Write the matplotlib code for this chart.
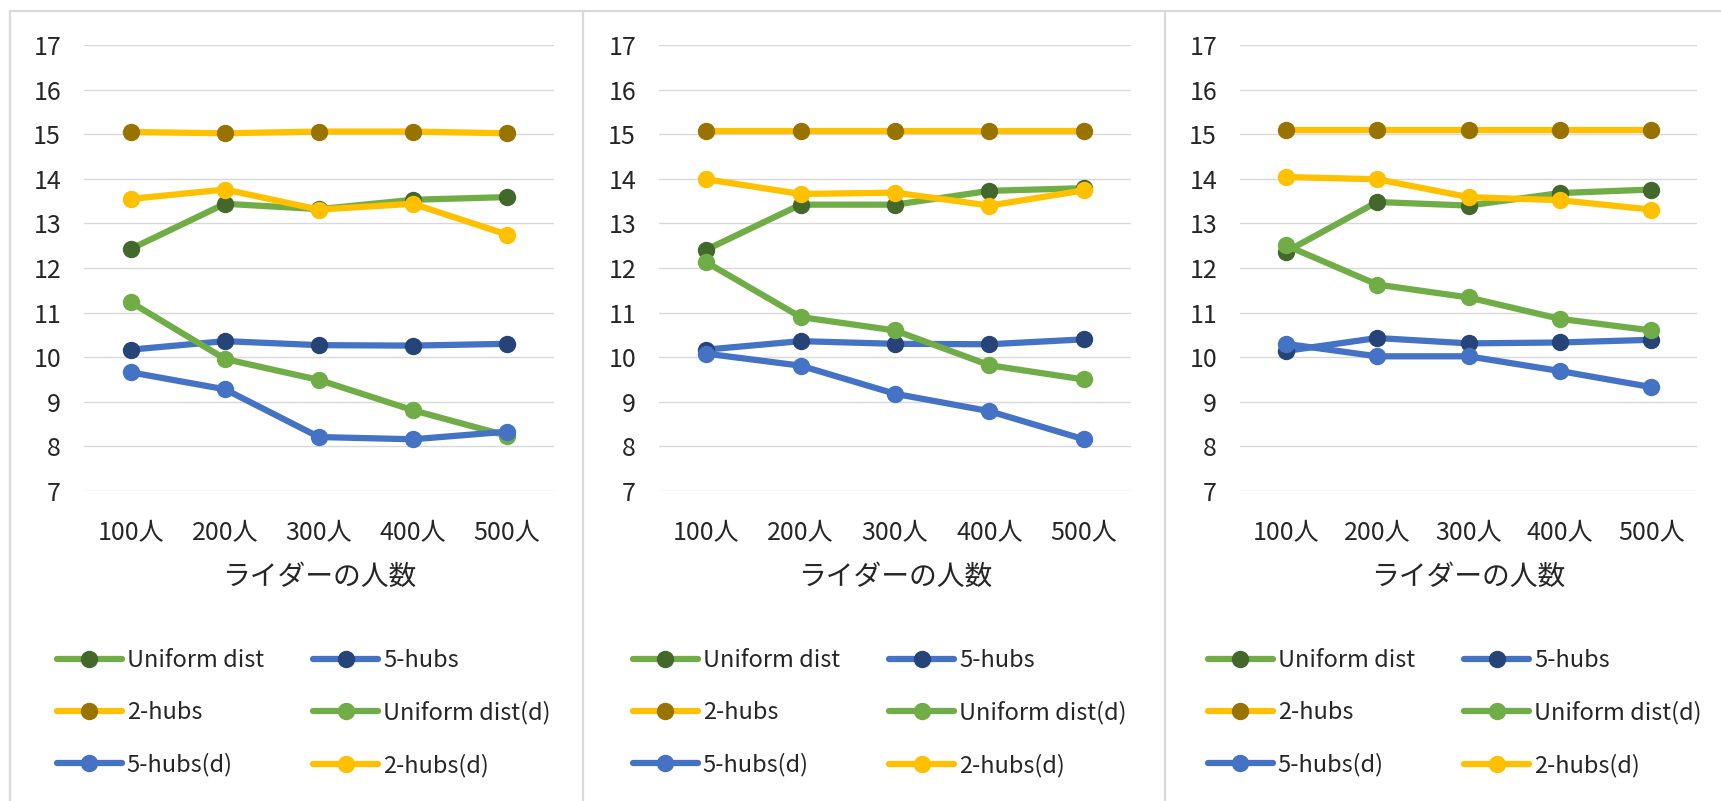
import matplotlib
matplotlib.use("Agg")
import matplotlib.pyplot as plt
from matplotlib.lines import Line2D

plt.rcParams["font.family"] = ["Noto Sans CJK JP", "DejaVu Sans"]

# ---- data -------------------------------------------------------------
categories = ["100人", "200人", "300人", "400人", "500人"]
x_label = "ライダーの人数"
y_ticks = [7, 8, 9, 10, 11, 12, 13, 14, 15, 16, 17]

series_names = ["Uniform dist", "5-hubs", "2-hubs",
                "Uniform dist(d)", "5-hubs(d)", "2-hubs(d)"]

# left panel
p1_uniform = [12.43, 13.44, 13.32, 13.53, 13.59]
p1_hub5 = [10.17, 10.36, 10.27, 10.26, 10.30]
p1_hub2 = [15.05, 15.02, 15.06, 15.06, 15.02]
p1_uniform_d = [11.23, 9.96, 9.49, 8.81, 8.24]
p1_hub5_d = [9.66, 9.28, 8.21, 8.16, 8.33]
p1_hub2_d = [13.55, 13.76, 13.31, 13.44, 12.75]

# middle panel
p2_uniform = [12.41, 13.42, 13.42, 13.73, 13.79]
p2_hub5 = [10.17, 10.36, 10.30, 10.29, 10.40]
p2_hub2 = [15.07, 15.07, 15.07, 15.07, 15.07]
p2_uniform_d = [12.13, 10.90, 10.60, 9.82, 9.50]
p2_hub5_d = [10.08, 9.81, 9.18, 8.79, 8.16]
p2_hub2_d = [13.99, 13.66, 13.69, 13.40, 13.74]

# right panel
p3_uniform = [12.36, 13.48, 13.40, 13.68, 13.76]
p3_hub5 = [10.14, 10.43, 10.31, 10.33, 10.39]
p3_hub2 = [15.09, 15.09, 15.09, 15.09, 15.09]
p3_uniform_d = [12.51, 11.63, 11.34, 10.86, 10.60]
p3_hub5_d = [10.30, 10.02, 10.02, 9.69, 9.33]
p3_hub2_d = [14.04, 13.99, 13.59, 13.52, 13.31]

panels = [
    [p1_uniform, p1_hub5, p1_hub2, p1_uniform_d, p1_hub5_d, p1_hub2_d],
    [p2_uniform, p2_hub5, p2_hub2, p2_uniform_d, p2_hub5_d, p2_hub2_d],
    [p3_uniform, p3_hub5, p3_hub2, p3_uniform_d, p3_hub5_d, p3_hub2_d],
]

# ---- styling ----------------------------------------------------------
line_colors = ["#70AD47", "#4472C4", "#FFC000", "#70AD47", "#4472C4", "#FFC000"]
marker_colors = ["#43682B", "#264478", "#997300", "#70AD47", "#4472C4", "#FFC000"]

W, H = 1721, 801
fig = plt.figure(figsize=(W / 100, H / 100), dpi=100)
fig.patch.set_facecolor("white")

# plot-area extents in pixels (left, right); shared top/bottom
plot_x = [(84, 554), (659, 1131), (1240, 1697)]
legend_x = [(57, 307), (633, 881), (1208, 1456)]
top_px, bot_px = 45, 491

text_color = "#262626"
grid_color = "#D9D9D9"

for (xl, xr), (lx1, lx2), data in zip(plot_x, legend_x, panels):
    ax = fig.add_axes([xl / W, 1 - bot_px / H, (xr - xl) / W, (bot_px - top_px) / H])
    xs = list(range(len(categories)))
    handles = []
    for name, vals, lc, mc in zip(series_names, data, line_colors, marker_colors):
        h, = ax.plot(xs, vals, color=lc, lw=4.5, marker="o", ms=11.5,
                     markerfacecolor=mc, markeredgecolor=mc, label=name,
                     solid_capstyle="round", zorder=3)
        handles.append(h)
    ax.set_xlim(-0.5, len(categories) - 0.5)
    ax.set_ylim(7, 17)
    ax.set_yticks(y_ticks)
    ax.set_xticks(xs)
    ax.set_xticklabels(categories)
    ax.grid(axis="y", color=grid_color, lw=1.0, zorder=0)
    ax.set_axisbelow(True)
    for s in ax.spines.values():
        s.set_visible(False)
    ax.tick_params(axis="both", length=0, labelsize=18, colors=text_color)
    ax.tick_params(axis="y", pad=16.5)
    ax.tick_params(axis="x", pad=21)
    ax.set_xlabel(x_label, fontsize=20, color=text_color)
    ax.xaxis.set_label_coords(0.5, -(577 - bot_px) / (bot_px - top_px))
    ax.xaxis.label.set_va("center")

    # legend in row-major order: two columns, three rows
    order = [0, 2, 4, 1, 3, 5]
    leg = fig.legend([handles[i] for i in order], [series_names[i] for i in order],
                     ncol=2, loc="center left",
                     bbox_to_anchor=(lx1 / W, 1 - 713 / H),
                     frameon=False, fontsize=17, handlelength=2.75,
                     handletextpad=0.2, columnspacing=2.1, labelspacing=1.23,
                     borderpad=0, borderaxespad=0)
    for t in leg.get_texts():
        t.set_color(text_color)

# panel frames
frame_kw = dict(color="#D9D9D9", lw=1.6, transform=fig.transFigure)
fig.add_artist(Line2D([10 / W, 1], [1 - 11 / H, 1 - 11 / H], **frame_kw))
for xv in (10, 583, 1165):
    fig.add_artist(Line2D([xv / W, xv / W], [0, 1 - 11 / H], **frame_kw))

fig.savefig("out.png", dpi=100)
